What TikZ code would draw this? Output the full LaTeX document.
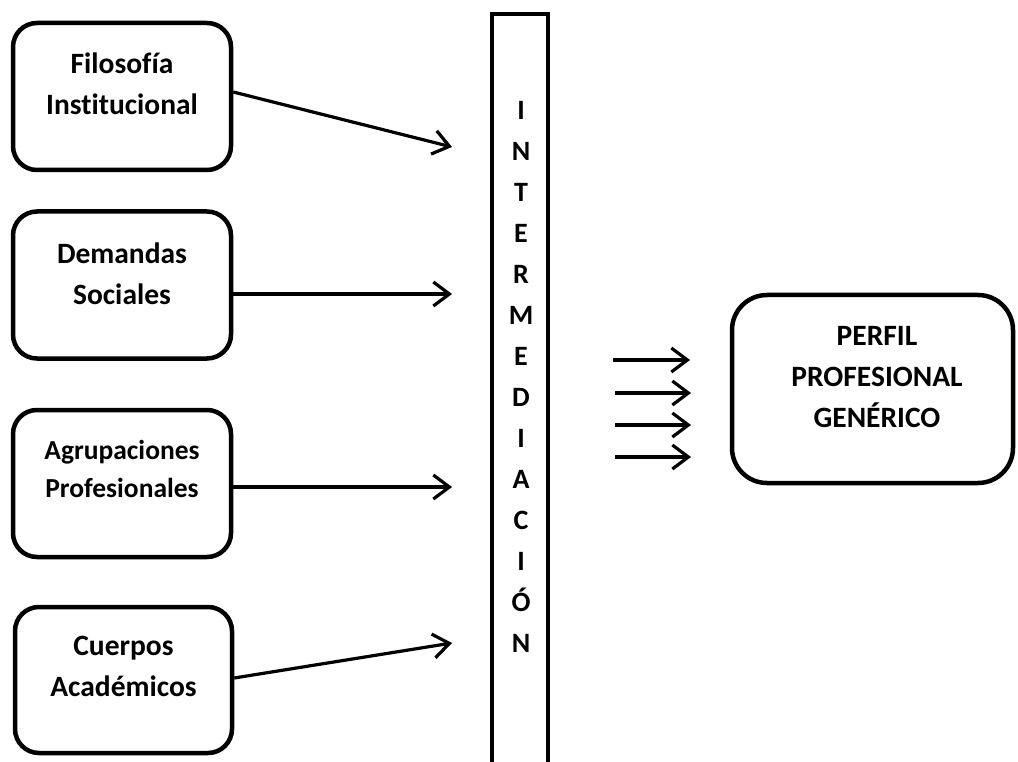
\documentclass[tikz,border=0pt]{standalone}
\usepackage{fontspec}
\setmainfont{Carlito}[Ligatures=NoCommon]
\usetikzlibrary{arrows.meta}
\begin{document}
\begin{tikzpicture}[x=1pt,y=-1pt,
  box/.style={draw, line width=4.5pt, rounded corners=24pt, minimum width=218pt, minimum height=147pt, inner sep=0pt},
  lbl/.style={font=\bfseries\fontsize{29.5}{41}\selectfont, align=center, inner sep=0pt},
  arr/.style={line width=3.2pt, -{Straight Barb[length=16pt,width=24pt,line width=3.2pt]}}]
\useasboundingbox (0,0) rectangle (1018,762);
% source boxes
\node[box] (b1) at (122,96.5) {};
\node[lbl] (t1) at (122,83.5) {Filosofía\\Institucional};
\node[box] (b2) at (122,285) {};
\node[lbl] (t2) at (122,273.5) {Demandas\\Sociales};
\node[box] (b3) at (122,483.5) {};
\node[lbl, font=\bfseries\fontsize{27.5}{38}\selectfont] (t3) at (122,469) {Agrupaciones\\Profesionales};
\node[box, minimum width=217pt, minimum height=146pt] (b4) at (123.5,680) {};
\node[lbl] (t4) at (123.5,666) {Cuerpos\\Académicos};
% intermediation bar
\node[draw, line width=4.5pt, minimum width=56pt, minimum height=780pt, inner sep=0pt, anchor=north] (bar) at (520,12) {};
\node[lbl, font=\bfseries\fontsize{28}{41}\selectfont] (bartext) at (521,376.5) {I\\N\\T\\E\\R\\M\\E\\D\\I\\A\\C\\I\\Ó\\N};
% arrow ends
\coordinate (e1) at (452,147);
\coordinate (e2) at (452,294);
\coordinate (e3) at (452,487);
\coordinate (e4) at (452,643);
\draw[arr] ([yshift=4.5pt]b1.east) -- (e1);
\draw[arr] ([yshift=-9pt]b2.east) -- (e2);
\draw[arr] ([yshift=-3.5pt]b3.east) -- (e3);
\draw[arr] ([yshift=2pt]b4.east) -- (e4);
% profile box
\node[draw, line width=4.5pt, rounded corners=35pt, minimum width=281pt, minimum height=188pt, inner sep=0pt] (perfil) at (872.5,389) {};
\node[lbl] (tp) at (877,377) {PERFIL\\PROFESIONAL\\GENÉRICO};
% four arrows
\coordinate (s1) at (613,360); \coordinate (u1) at (690,360);
\coordinate (s2) at (615,393); \coordinate (u2) at (691,393);
\coordinate (s3) at (615,425); \coordinate (u3) at (691,425);
\coordinate (s4) at (615,457); \coordinate (u4) at (691,457);
\draw[arr] (s1) -- (u1);
\draw[arr] (s2) -- (u2);
\draw[arr] (s3) -- (u3);
\draw[arr] (s4) -- (u4);
\end{tikzpicture}
\end{document}
